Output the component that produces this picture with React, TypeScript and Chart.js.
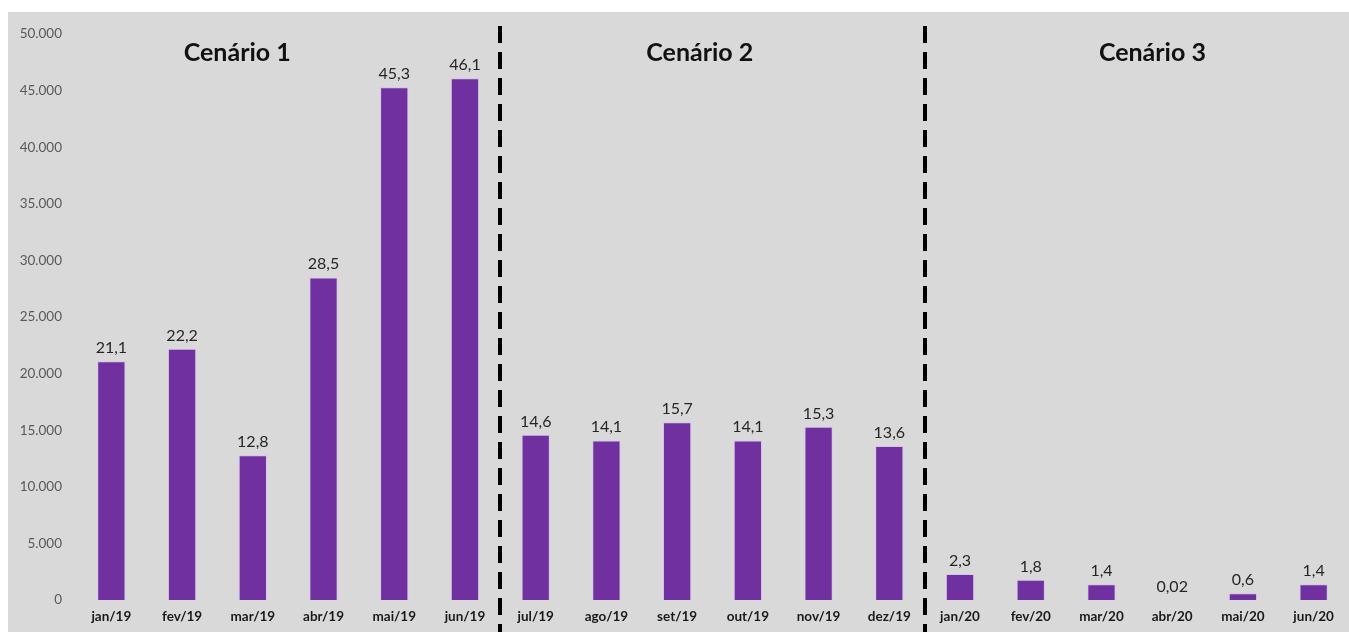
import React, { useEffect, useRef } from "react";
import { Chart, registerables } from "chart.js";

Chart.register(...registerables);

// Monthly values (units), shown in labels as thousands
const months = [
  "jan/19", "fev/19", "mar/19", "abr/19", "mai/19", "jun/19",
  "jul/19", "ago/19", "set/19", "out/19", "nov/19", "dez/19",
  "jan/20", "fev/20", "mar/20", "abr/20", "mai/20", "jun/20",
];
const values = [
  21100, 22200, 12800, 28500, 45300, 46100,
  14600, 14100, 15700, 14100, 15300, 13600,
  2300, 1800, 1400, 20, 600, 1400,
];
const scenarioTitles = ["Cenário 1", "Cenário 2", "Cenário 3"];
// Fractional category positions where each scenario title sits
const scenarioTitlePos = [1.78, 8.32, 14.72];
// Dividers sit between these category indices
const dividerAfter = [5, 11];

const FONT = "Lato, 'Open Sans', sans-serif";

const fmtThousands = (v: number) =>
  (v / 1000).toLocaleString("pt-BR", { maximumFractionDigits: 2 });

const fmtTick = (v: number) => v.toLocaleString("pt-BR");

const pixelAt = (scale: any, pos: number) => {
  const i = Math.floor(pos);
  const f = pos - i;
  const a = scale.getPixelForValue(i);
  const b = scale.getPixelForValue(Math.min(i + 1, months.length - 1));
  return a + (b - a) * f;
};

const overlayPlugin = {
  id: "scenarioOverlay",
  afterDatasetsDraw(chart: any) {
    const { ctx, scales } = chart;
    const x = scales.x;
    const meta = chart.getDatasetMeta(0);
    ctx.save();

    // value labels above bars
    ctx.font = `16px ${FONT}`;
    ctx.fillStyle = "#262626";
    ctx.textAlign = "center";
    ctx.textBaseline = "alphabetic";
    meta.data.forEach((bar: any, i: number) => {
      ctx.fillText(fmtThousands(values[i]), bar.x, bar.y - 8);
    });

    // dashed scenario dividers
    ctx.strokeStyle = "#000000";
    ctx.lineWidth = 4;
    ctx.setLineDash([17, 9]);
    dividerAfter.forEach((idx) => {
      const px = Math.round(pixelAt(x, idx + 0.5));
      ctx.beginPath();
      ctx.moveTo(px, 14);
      ctx.lineTo(px, chart.height);
      ctx.stroke();
    });
    ctx.setLineDash([]);

    // scenario titles
    ctx.font = `bold 25px ${FONT}`;
    ctx.fillStyle = "#111111";
    ctx.textBaseline = "middle";
    scenarioTitles.forEach((t, i) => {
      ctx.fillText(t, pixelAt(x, scenarioTitlePos[i]), 41);
    });
    ctx.restore();
  },
};

export default function App() {
  const canvasRef = useRef<HTMLCanvasElement | null>(null);

  useEffect(() => {
    if (!canvasRef.current) return;
    const chart = new Chart(canvasRef.current, {
      type: "bar",
      data: {
        labels: months,
        datasets: [
          {
            data: values,
            backgroundColor: "#7030a0",
            borderColor: "#d7c2ea",
            borderWidth: 1,
            barPercentage: 0.8,
            categoryPercentage: 0.5,
          },
        ],
      },
      options: {
        animation: false,
        responsive: true,
        maintainAspectRatio: false,
        layout: { padding: { top: 18, right: 0, bottom: 0, left: 0 } },
        plugins: {
          legend: { display: false },
          tooltip: { enabled: false },
        },
        scales: {
          x: {
            grid: { display: false, drawTicks: false },
            border: { display: false },
            ticks: {
              color: "#1a1a1a",
              font: { family: FONT, size: 13.5, weight: "bold" },
              padding: 9,
              maxRotation: 0,
              autoSkip: false,
            },
            afterFit: (s: any) => {
              s.height = 32;
            },
          },
          y: {
            min: 0,
            max: 50000,
            grid: { display: false, drawTicks: false },
            border: { display: false },
            ticks: {
              stepSize: 5000,
              color: "#595959",
              font: { family: FONT, size: 13.5 },
              padding: 14,
              callback: (v: any) => fmtTick(Number(v)),
            },
            afterFit: (s: any) => {
              s.width = 68;
            },
          },
        },
      },
      plugins: [overlayPlugin],
    });
    return () => chart.destroy();
  }, []);

  return (
    <div
      style={{
        position: "fixed",
        left: 8,
        top: 12,
        width: 1341,
        height: 620,
        background: "#d9d9d9",
      }}
    >
      <canvas ref={canvasRef} />
    </div>
  );
}
